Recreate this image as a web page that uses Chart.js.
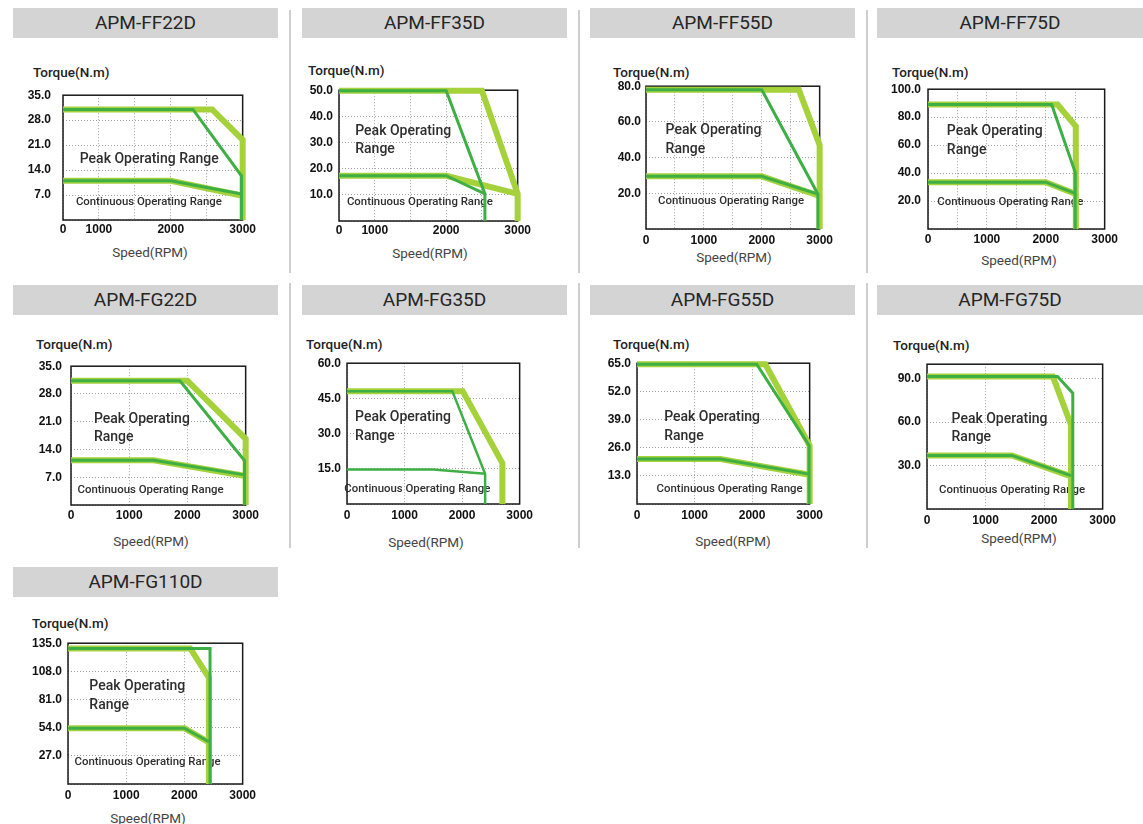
<!DOCTYPE html>
<html>
<head>
<meta charset="utf-8">
<title>APM servo motor torque-speed curves</title>
<script src="https://cdn.jsdelivr.net/npm/chart.js@4.4.1/dist/chart.umd.min.js"></script>
<style>
  body { margin: 0; background: #fff; }
  #page { position: relative; width: 1143px; height: 824px; overflow: hidden; font-family: Roboto, "Liberation Sans", sans-serif; }
  .hdr { position: absolute; height: 30px; background: #d4d4d4; color: #262626; font-size: 19px; font-weight: 400; line-height: 30px; text-align: center; }
  .sep { position: absolute; width: 2px; background: #cfcfcf; }
  .torque { position: absolute; font-size: 13.5px; font-weight: 500; color: #222; line-height: 16px; white-space: nowrap; transform: translateY(-50%); }
  .speed { position: absolute; font-size: 13.5px; color: #444; line-height: 16px; white-space: nowrap; transform: translate(-50%, -50%); }
  canvas { position: absolute; }
</style>
</head>
<body>
<div id="page"></div>
<script>
// --- data (speed in RPM, torque in N.m) ---
const models = ["APM-FF22D", "APM-FF35D", "APM-FF55D", "APM-FF75D",
                "APM-FG22D", "APM-FG35D", "APM-FG55D", "APM-FG75D", "APM-FG110D"];

const yMax  = [35, 50, 80, 100, 35, 60, 65, 100, 135];
const yStep = [7, 10, 20, 20, 7, 15, 13, 30, 27];
const xStep = [600, 600, 500, 500, 1000, 1000, 1000, 1000, 1000];

const xTickLabels = [
  ["0", "1000", "", "2000", "", "3000"],
  ["0", "1000", "", "2000", "", "3000"],
  ["0", "", "1000", "", "2000", "", "3000"],
  ["0", "", "1000", "", "2000", "", "3000"],
  ["0", "1000", "2000", "3000"],
  ["0", "1000", "2000", "3000"],
  ["0", "1000", "2000", "3000"],
  ["0", "1000", "2000", "3000"],
  ["0", "1000", "2000", "3000"]
];

// outer (light green) peak curve
const peakLight = [
  [[0, 31], [2490, 31], [3000, 22.5], [3000, 0]],
  [[0, 49.8], [2400, 49.8], [3000, 10.4], [3000, 0]],
  [[0, 78], [2640, 78], [3000, 47], [3000, 0]],
  [[0, 89], [2200, 89], [2510, 73.5], [2510, 0]],
  [[0, 31.3], [2000, 31.3], [3000, 16.7], [3000, 0]],
  [[0, 48.1], [2010, 48.1], [2700, 17.4], [2700, 0]],
  [[0, 64.5], [2230, 64.5], [3000, 27], [3000, 0]],
  [[0, 91.5], [2150, 91.5], [2460, 58], [2460, 0]],
  [[0, 130], [2100, 130], [2420, 102], [2420, 0]]
];

// inner (dark green) peak curve
const peakDark = [
  [[0, 31], [2170, 31], [2980, 12.4], [2980, 0]],
  [[0, 49.8], [1800, 49.8], [2450, 10.4], [2450, 0]],
  [[0, 78], [2000, 78], [2970, 19.5], [2970, 0]],
  [[0, 89], [2100, 89], [2500, 40.5], [2500, 0]],
  [[0, 31.3], [1870, 31.3], [2980, 11.2], [2980, 0]],
  [[0, 48.1], [1830, 48.1], [2400, 12.9], [2400, 0]],
  [[0, 64.5], [2080, 64.5], [2990, 27], [2990, 0]],
  [[0, 91.5], [2230, 91.5], [2490, 80], [2490, 0]],
  [[0, 130], [2440, 130], [2440, 0]]
];

// continuous curves
const contLight = [
  [[0, 11], [1800, 11], [3000, 6.8]],
  [[0, 17.3], [1800, 17.3], [3000, 10.4]],
  [[0, 29.5], [2000, 29.5], [3000, 18.5]],
  [[0, 33.5], [2000, 33.5], [2510, 25]],
  [[0, 11.3], [1420, 11.3], [3000, 7.3]],
  [],
  [[0, 20.8], [1450, 20.8], [3000, 13.5]],
  [[0, 37], [1450, 37], [2460, 22.5]],
  [[0, 53.5], [2000, 53.5], [2420, 40]]
];

const contDark = [
  [[0, 11], [1800, 11], [2980, 7.3]],
  [[0, 17.3], [1800, 17.3], [2450, 10.4]],
  [[0, 29.5], [2000, 29.5], [2970, 19.5]],
  [[0, 33.5], [2000, 33.5], [2500, 25.5]],
  [[0, 11.3], [1420, 11.3], [2980, 7.6]],
  [[0, 14.7], [1500, 14.7], [2400, 12.9]],
  [[0, 20.8], [1450, 20.8], [2990, 13.8]],
  [[0, 37], [1450, 37], [2460, 23]],
  [[0, 53.5], [2000, 53.5], [2420, 40.5]]
];

const peakText = [
  ["Peak Operating Range"],
  ["Peak Operating", "Range"], ["Peak Operating", "Range"], ["Peak Operating", "Range"],
  ["Peak Operating", "Range"], ["Peak Operating", "Range"], ["Peak Operating", "Range"],
  ["Peak Operating", "Range"], ["Peak Operating", "Range"]
];
const contText = "Continuous Operating Range";

// --- layout ---
const boxes = [ // plot area: left, top, width, height
  [63, 88, 181, 132], [339, 89, 180, 132], [646, 86, 177, 143], [928, 87, 179, 142],
  [71, 362, 177, 143], [347, 362, 176, 142], [637, 362, 176, 142], [927, 363, 179, 146],
  [68, 642, 178, 142]
];
const headers = [
  [13, 8, 265], [302, 8, 265], [590, 8, 265], [877, 8, 266],
  [13, 285, 265], [302, 285, 265], [590, 285, 265], [877, 285, 266],
  [13, 567, 265]
];
const torquePos = [[33, 72], [308, 70], [613, 72], [892, 72], [36, 344], [306, 344], [613, 344], [893, 345], [32, 623]];
const speedPos = [[150, 252], [430, 253], [734, 257], [1019, 260], [151, 541], [426, 542], [733, 541], [1019, 538], [148, 818]];
const yPad = [12, 6, 5, 7, 9, 6, 6, 6, 6];
const xPad = [2, 2, 4, 3, 3, 4, 4, 4, 4];
const separators = [[289, 10, 263], [578, 10, 263], [866, 10, 263], [289, 283, 265], [578, 283, 265], [866, 283, 265]];
// note anchors in axis units: peak line(s) then continuous
const peakAt = [
  [[280, 17]], [[273, 34.4], [273, 27.4]], [[338, 55.4], [338, 44.8]], [[320, 69.9], [320, 56.3]],
  [[394, 21.6], [394, 17.1]], [[141, 36.8], [141, 28.7]], [[472, 39.9], [472, 31.2]],
  [[419, 62], [419, 49.4]], [[367, 93.3], [367, 75]]
];
const contAt = [[215, 5], [133, 7.2], [208, 15.4], [158, 19.4], [113, 3.8], [-46, 6.2], [341, 6.7], [206, 13], [113, 20.6]];

const LIGHT = "#a5d13a";
const DARK = "#3daf45";
const page = document.getElementById("page");

separators.forEach(([l, t, h]) => {
  const d = document.createElement("div");
  d.className = "sep";
  Object.assign(d.style, { left: l + "px", top: t + "px", height: h + "px" });
  page.appendChild(d);
});

const framePlugin = {
  id: "frame",
  beforeDatasetsDraw(chart, args, opts) {
    const { ctx, chartArea: a } = chart;
    const x = chart.scales.x, y = chart.scales.y;
    ctx.save();
    ctx.strokeStyle = "#1a1a1a";
    ctx.lineWidth = 1.5;
    ctx.strokeRect(a.left, a.top, a.right - a.left, a.bottom - a.top);
    ctx.fillStyle = "#2e2e2e";
    ctx.textBaseline = "middle";
    ctx.textAlign = "left";
    opts.notes.forEach(n => {
      ctx.font = n.font;
      ctx.fillText(n.text, x.getPixelForValue(n.x), y.getPixelForValue(n.y), n.max);
    });
    ctx.restore();
  }
};

const curve = (pts, color, width) => ({
  data: pts.map(([x, y]) => ({ x, y })),
  borderColor: color,
  borderWidth: width,
  pointRadius: 0,
  tension: 0,
  fill: false,
  clip: false,
  borderJoinStyle: "miter",
  borderCapStyle: "butt"
});

const tickFont = { family: "'Liberation Sans', Arial, sans-serif", weight: "bold", size: 12 };

models.forEach((name, i) => {
  const [hl, ht, hw] = headers[i];
  const h = document.createElement("div");
  h.className = "hdr";
  h.textContent = name;
  Object.assign(h.style, { left: hl + "px", top: ht + "px", width: hw + "px" });
  page.appendChild(h);

  const tq = document.createElement("div");
  tq.className = "torque";
  tq.textContent = "Torque(N.m)";
  Object.assign(tq.style, { left: torquePos[i][0] + "px", top: torquePos[i][1] + "px" });
  page.appendChild(tq);

  const sp = document.createElement("div");
  sp.className = "speed";
  sp.textContent = "Speed(RPM)";
  Object.assign(sp.style, { left: speedPos[i][0] + "px", top: speedPos[i][1] + "px" });
  page.appendChild(sp);

  const [bl, bt, bw, bh] = boxes[i];
  const cv = document.createElement("canvas");
  cv.width = bw + 74;
  cv.height = bh + 34;
  Object.assign(cv.style, { left: (bl - 60) + "px", top: (bt - 12) + "px" });
  page.appendChild(cv);

  const notes = peakText[i].map((t, k) => ({
    text: t, x: peakAt[i][k][0], y: peakAt[i][k][1], font: "500 14px Roboto, sans-serif", max: 140
  }));
  notes.push({ text: contText, x: contAt[i][0], y: contAt[i][1], font: "500 11.5px Roboto, sans-serif", max: 146 });

  const datasets = [
    curve(peakDark[i], DARK, i === 5 ? 2.5 : 3),
    curve(contDark[i], DARK, i === 5 ? 2.5 : 3),
    curve(peakLight[i], LIGHT, 6),
    curve(contLight[i], LIGHT, 6)
  ];

  new Chart(cv.getContext("2d"), {
    type: "line",
    data: { datasets },
    plugins: [framePlugin],
    options: {
      responsive: false,
      animation: false,
      layout: { padding: { top: 12, right: 14, left: 0, bottom: 0 } },
      plugins: {
        legend: { display: false },
        tooltip: { enabled: false },
        frame: { notes }
      },
      scales: {
        x: {
          type: "linear",
          min: 0,
          max: 3000,
          afterFit: s => { s.height = 22; },
          grid: { color: "#a0a0a0", lineWidth: 1, drawTicks: false },
          border: { display: false, dash: [1, 2] },
          ticks: {
            stepSize: xStep[i],
            autoSkip: false,
            maxRotation: 0,
            padding: xPad[i],
            color: "#111",
            font: tickFont,
            callback: (v, k) => xTickLabels[i][k] ?? ""
          }
        },
        y: {
          min: 0,
          max: yMax[i],
          afterFit: s => { s.width = 60; },
          grid: { color: "#a0a0a0", lineWidth: 1, drawTicks: false },
          border: { display: false, dash: [1, 2] },
          ticks: {
            stepSize: yStep[i],
            autoSkip: false,
            padding: yPad[i],
            color: "#111",
            font: tickFont,
            callback: v => (v > 0 && v % yStep[i] === 0) ? v.toFixed(1) : ""
          }
        }
      }
    }
  });
});
</script>
</body>
</html>
